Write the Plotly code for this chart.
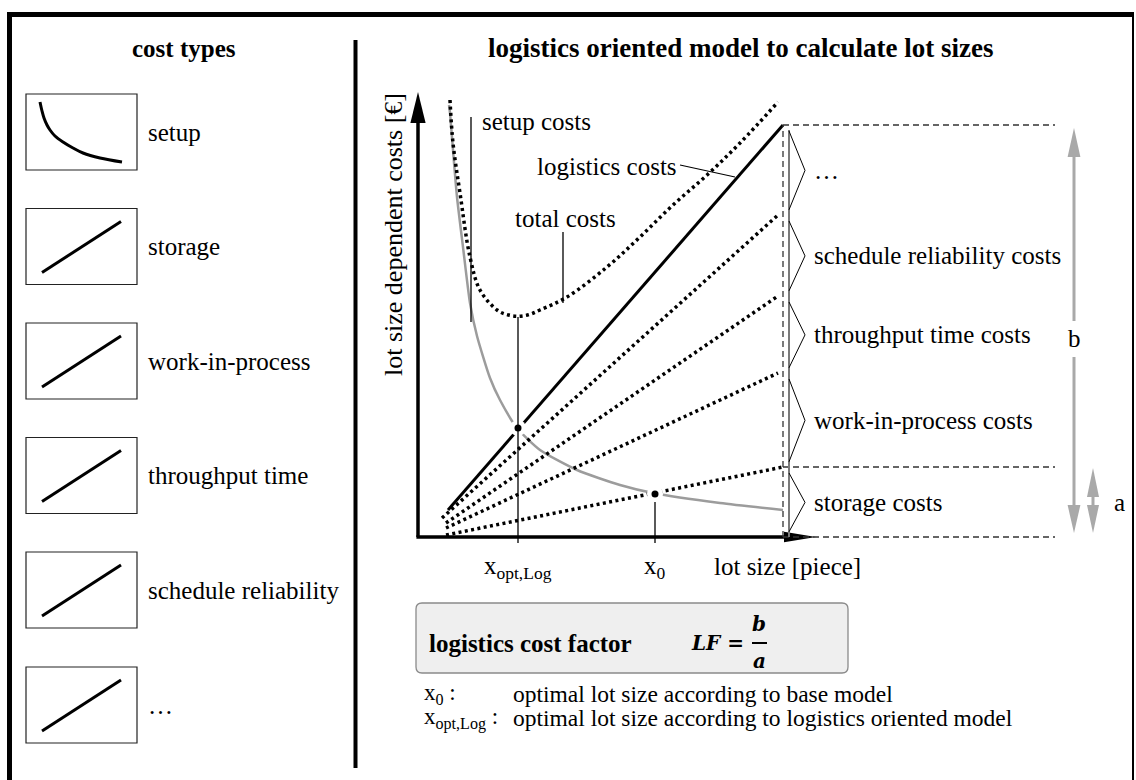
import plotly.graph_objects as go

# ---------------- data (chart units: lot size / cost) ----------------
setup_x = [7.75, 8.0, 8.75, 9.75, 11.25, 13.0, 14.75, 18.0, 20.5, 24.75, 30.5, 39.75, 50.5, 58.75, 75.5, 91.25]
setup_y = [108, 106, 96.75, 85, 72.5, 58.5, 50.25, 39.75, 34.25, 27.25, 21.75, 16.75, 13, 11, 8.5, 6.75]

total_x = [8, 8.75, 10.5, 13, 15.5, 19.75, 22.25, 25, 27.75, 30.5, 37.25, 47.25, 55.5, 63.75, 72.25, 80.5, 90]
total_y = [109.25, 98.5, 86, 70, 61.75, 56.75, 55.6, 55.2, 55.6, 56.75, 60, 67.5, 75, 83, 90.5, 98.5, 108.75]

logistics_x = [7.5, 91.25]
logistics_y = [6.75, 103]
schedule_x = [6, 90]
schedule_y = [4.75, 80.5]
throughput_x = [7, 90]
throughput_y = [3.5, 60.25]
wip_x = [7, 90]
wip_y = [2.25, 41]
storage_x = [7, 91.25]
storage_y = [0.5, 17.5]

x_opt_log = 25
x_opt_cost = 27.25
x_zero = 59.25
x_zero_cost = 10.75

bracket_labels = ["storage costs", "work-in-process costs", "throughput time costs",
                  "schedule reliability costs", "…"]
bracket_bounds = [0, 17.5, 41, 60.25, 80.5, 103]

cost_types = ["setup", "storage", "work-in-process", "throughput time", "schedule reliability", "…"]

# ---------------- styling ----------------
SERIF = "Liberation Serif, Times New Roman, serif"
GREY = "#9c9c9c"
AGREY = "#a9a9a9"
FS = 25

fig = go.Figure()

def dtrace(x, y, **kw):
    fig.add_trace(go.Scatter(x=x, y=y, xaxis="x2", yaxis="y2", mode="lines",
                             hoverinfo="skip", showlegend=False, **kw))

# setup curve (grey)
dtrace(setup_x, setup_y, line=dict(color=GREY, width=2.5, shape="spline", smoothing=0.6))
# linear cost lines
DOT = "3px,3.4px"
for xs, ys in [(schedule_x, schedule_y), (throughput_x, throughput_y),
               (wip_x, wip_y), (storage_x, storage_y)]:
    dtrace(xs, ys, line=dict(color="black", width=3.5, dash=DOT))
dtrace(logistics_x, logistics_y, line=dict(color="black", width=3))
# total costs
dtrace(total_x, total_y, line=dict(color="black", width=3.5, dash=DOT, shape="spline", smoothing=1.0))

# white halos around points
fig.add_trace(go.Scatter(x=[x_opt_log, x_zero], y=[x_opt_cost, x_zero_cost], xaxis="x2", yaxis="y2",
                         mode="markers", marker=dict(color="white", size=16),
                         hoverinfo="skip", showlegend=False))

# leader / marker lines
dtrace([x_opt_log, x_opt_log], [55, -1.5], line=dict(color="black", width=1.3))
dtrace([x_zero, x_zero], [x_zero_cost - 2, -1.5], line=dict(color="black", width=1.3))
dtrace([13.25, 13.25], [105, 53.75], line=dict(color="black", width=1.3))
dtrace([36.25, 36.25], [76.25, 58.5], line=dict(color="black", width=1.3))
dtrace([65.5, 79.25], [93, 90], line=dict(color="black", width=1.1))

# points
fig.add_trace(go.Scatter(x=[x_opt_log, x_zero], y=[x_opt_cost, x_zero_cost], xaxis="x2", yaxis="y2",
                         mode="markers", marker=dict(color="black", size=7),
                         hoverinfo="skip", showlegend=False))

# axes lines
dtrace([0, 0], [0, 104], line=dict(color="black", width=3.5))
dtrace([-0.4, 92.5], [0, 0], line=dict(color="black", width=3.5))

# ---------------- left panel icons (canvas px) ----------------
box_tops = [94, 208.5, 323, 437.5, 552, 667]
icon_curve_x = [40, 42, 44, 47, 50, 55, 63, 73, 83, 100, 122]
icon_curve_y = [102, 111, 118, 125, 130, 136, 142, 148, 153, 158, 162]

shapes = []
annotations = []

for i, (top, name) in enumerate(zip(box_tops, cost_types)):
    shapes.append(dict(type="rect", xref="x", yref="y", x0=26, x1=137, y0=top, y1=top + 76,
                       line=dict(color="#222", width=1.2)))
    if i == 0:
        fig.add_trace(go.Scatter(x=icon_curve_x, y=[v - 94 + top for v in icon_curve_y],
                                 mode="lines", line=dict(color="black", width=3, shape="spline"),
                                 hoverinfo="skip", showlegend=False))
    else:
        fig.add_trace(go.Scatter(x=[42, 121], y=[top + 64, top + 13], mode="lines",
                                 line=dict(color="black", width=3),
                                 hoverinfo="skip", showlegend=False))
    annotations.append(dict(x=146, y=top + 38, xref="x", yref="y", text=name, showarrow=False,
                            xanchor="left", yanchor="middle", font=dict(size=FS)))

# frame
shapes += [
    dict(type="line", xref="x", yref="y", x0=7, x1=1134, y0=14.5, y1=14.5, line=dict(color="black", width=5)),
    dict(type="line", xref="x", yref="y", x0=9.5, x1=9.5, y0=12, y1=782, line=dict(color="black", width=5)),
    dict(type="line", xref="x", yref="y", x0=1133, x1=1133, y0=12, y1=782, line=dict(color="black", width=2)),
    dict(type="line", xref="x", yref="y", x0=355.5, x1=355.5, y0=40, y1=768, line=dict(color="black", width=4)),
]

# titles
annotations.append(dict(x=184, y=48, xref="x", yref="y", text="<b>cost types</b>", showarrow=False,
                        xanchor="center", yanchor="middle", font=dict(size=FS)))
annotations.append(dict(x=740, y=48, xref="x", yref="y",
                        text="<b>logistics oriented model to calculate lot sizes</b>", showarrow=False,
                        xanchor="center", yanchor="middle", font=dict(size=27)))

# ---------------- chart decorations (data coords) ----------------
def dshape(**kw):
    d = dict(xref="x2", yref="y2")
    d.update(kw)
    shapes.append(d)

# axis arrowheads
dshape(type="path", path="M -1.9,103.5 L 0,111.25 L 1.9,103.5 Z", fillcolor="black", line=dict(width=0))
dshape(type="path", path="M 91.5,-1.3 L 99.5,0 L 91.5,1.3 Z", fillcolor="black", line=dict(width=0))

# dashed verticals / horizontals
DASHC = "#333"
dshape(type="line", x0=91.25, x1=91.25, y0=0, y1=bracket_bounds[-1], line=dict(color=DASHC, width=1.3, dash="6px,4px"))
for yy in [bracket_bounds[-1], bracket_bounds[1], 0]:
    dshape(type="line", x0=91.25, x1=159.25, y0=yy, y1=yy, line=dict(color=DASHC, width=1.3, dash="6px,4px"))
# grey bracket base
dshape(type="line", x0=92.75, x1=92.75, y0=0, y1=101.75, line=dict(color="#7a7a7a", width=2))

# brackets with labels
for lo, hi, lab in zip(bracket_bounds[:-1], bracket_bounds[1:], bracket_labels):
    b0 = lo + 1.3
    b1 = hi - 1.5
    mid = (b0 + b1) / 2
    dshape(type="path", path=f"M 92.75,{b0} L 96.75,{mid} L 92.75,{b1}",
           line=dict(color="black", width=1))
    annotations.append(dict(x=98.5, y=mid, xref="x2", yref="y2", text=lab, showarrow=False,
                            xanchor="left", yanchor="middle", font=dict(size=FS)))

# b arrow
bx = 164
dshape(type="line", x0=bx, x1=bx, y0=95, y1=54, line=dict(color=AGREY, width=3))
dshape(type="line", x0=bx, x1=bx, y0=45, y1=8, line=dict(color=AGREY, width=3))
dshape(type="path", path=f"M {bx-1.6},95 L {bx},102.25 L {bx+1.6},95 Z", fillcolor=AGREY, line=dict(width=0))
dshape(type="path", path=f"M {bx-1.6},8 L {bx},1 L {bx+1.6},8 Z", fillcolor=AGREY, line=dict(width=0))
annotations.append(dict(x=bx, y=49.75, xref="x2", yref="y2", text="b", showarrow=False,
                        xanchor="center", yanchor="middle", font=dict(size=FS)))
# a arrow
ax_ = 168.75
dshape(type="line", x0=ax_, x1=ax_, y0=10, y1=8, line=dict(color=AGREY, width=3))
dshape(type="path", path=f"M {ax_-1.5},10 L {ax_},17.25 L {ax_+1.5},10 Z", fillcolor=AGREY, line=dict(width=0))
dshape(type="path", path=f"M {ax_-1.5},8 L {ax_},1 L {ax_+1.5},8 Z", fillcolor=AGREY, line=dict(width=0))
annotations.append(dict(x=173.5, y=8.75, xref="x2", yref="y2", text="a", showarrow=False,
                        xanchor="left", yanchor="middle", font=dict(size=FS)))

# chart labels
def dlabel(x, y, text, xanchor="left", size=FS, **kw):
    annotations.append(dict(x=x, y=y, xref="x2", yref="y2", text=text, showarrow=False,
                            xanchor=xanchor, yanchor="middle", font=dict(size=size), **kw))

dlabel(15.5, 104, "setup costs")
dlabel(65.3, 92.75, "logistics costs", xanchor="right")
dlabel(23.75, 79.75, "total costs")
dlabel(x_opt_log, -7.5, "x<sub>opt,Log</sub>", xanchor="center")
dlabel(x_zero, -7.5, "x<sub>0</sub>", xanchor="center")
dlabel(73.5, -7.25, "lot size [piece]")
dlabel(-6.25, 75.5, "lot size dependent costs [€]", xanchor="center", textangle=-90, size=26)

# ---------------- formula box ----------------
shapes.append(dict(type="path", xref="x", yref="y",
                   path="M 422,603 L 842,603 Q 848,603 848,609 L 848,667 Q 848,673 842,673 "
                        "L 422,673 Q 416,673 416,667 L 416,609 Q 416,603 422,603 Z",
                   fillcolor="#efefef", line=dict(color="#8a8a8a", width=1.3)))
annotations.append(dict(x=427, y=643, xref="x", yref="y", text="<b>logistics cost factor</b>",
                        showarrow=False, xanchor="left", yanchor="middle", font=dict(size=FS)))
MATH = "DejaVu Serif, serif"
annotations.append(dict(x=746, y=643, xref="x", yref="y", text="<b><i>LF</i> =</b>",
                        showarrow=False, xanchor="right", yanchor="middle",
                        font=dict(size=20, family=MATH)))
annotations.append(dict(x=759, y=624, xref="x", yref="y", text="<b><i>b</i></b>",
                        showarrow=False, xanchor="center", yanchor="middle",
                        font=dict(size=20, family=MATH)))
annotations.append(dict(x=759, y=661, xref="x", yref="y", text="<b><i>a</i></b>",
                        showarrow=False, xanchor="center", yanchor="middle",
                        font=dict(size=20, family=MATH)))
shapes.append(dict(type="line", xref="x", yref="y", x0=752, x1=767, y0=643, y1=643,
                   line=dict(color="black", width=2)))

# ---------------- bottom legend ----------------
legend_rows = [("x<sub>0</sub> :", "optimal lot size according to base model"),
               ("x<sub>opt,Log</sub> :", "optimal lot size according to logistics oriented model")]
for k, (sym, desc) in enumerate(legend_rows):
    yy = 694 + 24 * k
    annotations.append(dict(x=422, y=yy, xref="x", yref="y", text=sym, showarrow=False,
                            xanchor="left", yanchor="middle", font=dict(size=23)))
    annotations.append(dict(x=511, y=yy, xref="x", yref="y", text=desc, showarrow=False,
                            xanchor="left", yanchor="middle", font=dict(size=23.5)))

fig.update_layout(
    width=1136, height=780,
    margin=dict(l=0, r=0, t=0, b=0),
    paper_bgcolor="white", plot_bgcolor="white",
    font=dict(family=SERIF, color="black", size=FS),
    showlegend=False,
    xaxis=dict(range=[0, 1136], visible=False, fixedrange=True),
    yaxis=dict(range=[780, 0], visible=False, fixedrange=True),
    xaxis2=dict(range=[-104.5, 179.5], overlaying="x", anchor="y2", visible=False, fixedrange=True),
    yaxis2=dict(range=[-60.75, 134.25], overlaying="y", anchor="x2", visible=False, fixedrange=True),
    shapes=shapes,
    annotations=annotations,
)

fig.write_html("out.html", config={"displayModeBar": False},
               post_script="document.body.style.margin='0px';document.body.style.padding='0px';")
